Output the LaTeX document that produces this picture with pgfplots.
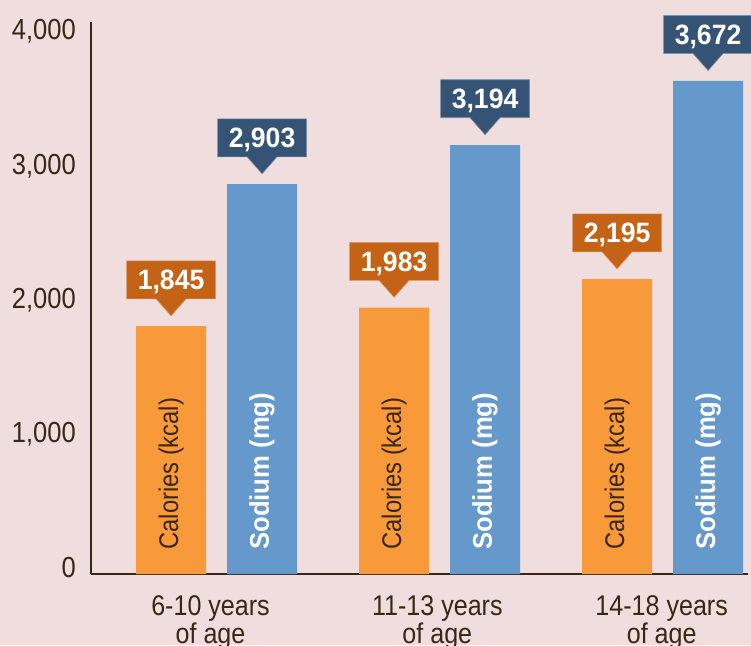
\documentclass[border=0pt]{standalone}
\usepackage{pgfplots}
\pgfplotsset{compat=1.18}
\usepackage{fontspec}
\setmainfont[FakeStretch=0.88]{Liberation Sans}
\newfontfamily\callfont[FakeStretch=0.95]{Liberation Sans}
\usetikzlibrary{shapes.callouts}
\definecolor{bg}{RGB}{240,222,222}
\definecolor{barO}{RGB}{249,154,58}
\definecolor{barB}{RGB}{101,153,203}
\definecolor{callO}{RGB}{196,99,22}
\definecolor{callB}{RGB}{53,84,117}
\definecolor{ink}{RGB}{58,38,24}
\tikzset{catlab/.style={rotate=90, anchor=west, inner sep=0pt, text=ink, font=\fontsize{27}{30}\selectfont},
         sodlab/.style={rotate=90, anchor=west, inner sep=0pt, text=white, font=\callfont\bfseries\fontsize{27}{30}\selectfont}}
\begin{document}
\begin{tikzpicture}
\fill[bg] (-91pt,-71pt) rectangle (660pt,574pt);
\begin{axis}[
  at={(0,0)}, anchor=south west,
  scale only axis, width=657pt, height=552pt,
  xmin=-0.563, xmax=2.383, ymin=0, ymax=4110,
  clip=false,
  axis lines=left,
  axis line style={-, line width=2.6pt, draw=ink},
  major tick length=0pt,
  tick style={draw=none},
  scaled y ticks=false,
  /pgf/number format/1000 sep={,},
  /pgf/number format/assume math mode=true,
  ytick={0,1000,2000,3000,4000},
  yticklabel style={font=\fontsize{29}{30}\selectfont, text=ink, anchor=east, inner sep=0pt, xshift=-15pt, yshift=7pt, text height=20pt, text depth=0pt},
  xtick={-0.027,0.99,1.996},
  xticklabels={{6-10 years\\of age},{11-13 years\\of age},{14-18 years\\of age}},
  xticklabel style={font=\fontsize{28.5}{28}\selectfont, text=ink, align=center, anchor=north, inner sep=0pt, yshift=-21pt},
  ybar, bar width=0.314, bar shift=0pt,
  nodes near coords,
  nodes near coords style={shape=rectangle callout, text=white,
    font=\callfont\bfseries\fontsize{28}{28}\selectfont,
    minimum width=89pt, minimum height=38pt, inner sep=0pt,
    text height=20pt, text depth=0pt,
    callout relative pointer={(0pt,-17pt)}, callout pointer width=30pt,
    anchor=south, yshift=27pt},
]
\addplot[draw=none, fill=barO,
  nodes near coords style={fill=callO, draw=callO!65!white, line width=0.6pt}]
  coordinates {(-0.204,1845) (0.796,1983) (1.796,2195)};
\addplot[draw=none, fill=barB,
  nodes near coords style={fill=callB, draw=callB!65!white, line width=0.6pt}]
  coordinates {(0.204,2903) (1.204,3194) (2.204,3672)};
\node[catlab] at (axis cs:-0.204,180) {Calories (kcal)};
\node[catlab] at (axis cs:0.796,180) {Calories (kcal)};
\node[catlab] at (axis cs:1.796,180) {Calories (kcal)};
\node[sodlab] at (axis cs:0.204,180) {Sodium (mg)};
\node[sodlab] at (axis cs:1.204,180) {Sodium (mg)};
\node[sodlab] at (axis cs:2.204,180) {Sodium (mg)};
\end{axis}
\pgfresetboundingbox
\path (-91pt,-71pt) rectangle (660pt,574pt);
\end{tikzpicture}
\end{document}
